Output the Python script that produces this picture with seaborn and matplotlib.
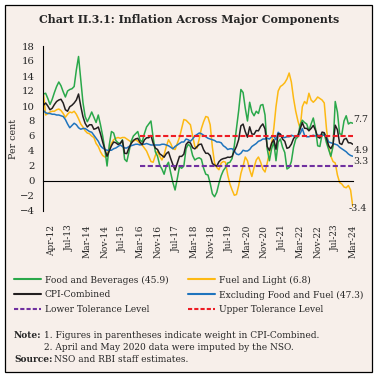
import numpy as np
import pandas as pd
import seaborn as sns
import matplotlib.pyplot as plt
from matplotlib.lines import Line2D
from matplotlib.patches import Rectangle

# Monthly data, Jun-12 to Mar-24 (y-o-y, per cent)
months = pd.period_range('2012-06', '2024-03', freq='M')

food = [11.6, 11.7, 11.0, 10.2, 10.9, 11.8, 12.6, 13.2, 12.7, 11.9,
        11.2, 12.0, 12.2, 12.3, 12.6, 14.8, 16.6, 13.5, 10.5, 8.6,
        7.9, 8.5, 9.2, 8.5, 7.8, 8.8, 7.5, 6.0, 4.2, 2.0,
        4.8, 6.6, 6.4, 5.4, 5.1, 5.0, 5.5, 2.9, 2.6, 3.9,
        5.3, 6.0, 6.3, 6.6, 5.5, 5.2, 6.3, 7.2, 7.6, 8.0,
        5.8, 3.9, 3.3, 2.1, 1.6, 0.9, 2.0, 2.5, 1.1, -0.2,
        -1.2, 0.3, 1.9, 1.7, 2.0, 4.3, 4.9, 4.6, 3.4, 2.8,
        3.0, 3.1, 2.9, 1.7, 0.9, 0.8, -0.3, -1.7, -2.1, -1.5,
        -0.3, 0.7, 1.4, 1.8, 2.4, 2.5, 3.0, 4.7, 7.1, 9.4,
        12.2, 11.8, 9.7, 8.0, 10.5, 9.2, 8.7, 9.3, 9.0, 10.1,
        10.2, 8.8, 4.3, 2.7, 4.3, 5.2, 2.7, 5.2, 5.6, 4.5,
        3.8, 1.6, 1.8, 2.6, 4.5, 5.6, 5.9, 7.5, 8.1, 7.8,
        7.6, 6.7, 7.6, 8.4, 7.0, 4.7, 4.6, 6.2, 6.3, 5.1,
        4.2, 3.3, 4.6, 10.6, 9.2, 6.3, 6.2, 8.0, 8.7, 7.6,
        7.8, 7.7]

fuel = [11.7, 8.8, 9.0, 9.2, 9.3, 9.3, 9.5, 9.6, 9.4, 9.0,
        8.5, 8.9, 9.2, 9.1, 9.3, 8.9, 8.3, 7.6, 7.2, 6.7,
        6.4, 6.3, 6.0, 5.8, 5.0, 4.6, 3.9, 3.4, 3.2, 3.5,
        4.3, 5.0, 5.5, 5.7, 5.8, 5.7, 5.8, 5.8, 5.6, 5.4,
        5.2, 5.3, 5.5, 5.3, 5.0, 4.8, 4.4, 4.0, 3.3, 2.6,
        2.5, 3.4, 4.0, 3.3, 2.8, 3.5, 4.6, 5.5, 5.0, 4.3,
        4.2, 5.0, 5.8, 7.0, 8.2, 8.1, 7.8, 7.5, 6.0, 4.6,
        4.4, 5.6, 7.0, 7.9, 8.6, 8.5, 7.5, 4.5, 2.4, 1.8,
        1.5, 2.4, 2.6, 2.5, 0.8, -0.4, -1.2, -1.9, -1.8, -0.6,
        1.0, 2.0, 3.2, 2.7, 1.5, 0.6, 1.8, 2.8, 3.2, 2.5,
        1.6, 1.2, 2.4, 3.8, 5.0, 7.0, 9.9, 12.0, 12.6, 12.8,
        13.1, 13.6, 14.4, 13.2, 11.0, 9.3, 8.0, 7.0, 9.9, 10.6,
        10.3, 11.7, 10.8, 10.5, 10.8, 11.2, 11.0, 10.8, 10.4, 7.0,
        4.5, 3.3, 2.6, 2.4, 0.8, -0.2, -0.4, -0.8, -0.9, -0.6,
        -1.2, -3.4]

cpi = [10.1, 10.4, 10.0, 9.5, 9.7, 10.2, 10.6, 10.8, 10.9, 10.4,
       9.5, 9.3, 9.9, 10.1, 10.4, 10.8, 11.6, 10.0, 8.6, 7.7,
       7.2, 7.5, 7.5, 6.9, 7.0, 7.2, 6.3, 5.2, 4.2, 3.3,
       4.0, 4.7, 5.2, 5.1, 4.87, 5.01, 5.40, 3.69, 3.66, 4.41,
       5.00, 5.41, 5.61, 5.69, 5.18, 4.83, 5.47, 5.76, 5.77, 6.07,
       5.05, 4.39, 4.20, 3.63, 3.41, 3.17, 3.65, 3.89, 2.99, 2.18,
       1.46, 2.36, 3.28, 3.28, 3.58, 4.88, 5.21, 5.07, 4.44, 4.28,
       4.58, 4.87, 4.92, 4.17, 3.69, 3.70, 3.38, 2.33, 2.11, 1.97,
       2.57, 2.86, 2.99, 3.05, 3.18, 3.15, 3.28, 3.99, 4.62, 5.54,
       7.35, 7.59, 6.58, 5.84, 7.22, 6.27, 6.23, 6.73, 6.69, 7.27,
       7.61, 6.93, 4.59, 4.06, 5.03, 5.52, 4.23, 6.30, 6.26, 5.59,
       5.30, 4.35, 4.48, 4.91, 5.66, 6.01, 6.07, 6.95, 7.79, 7.04,
       7.01, 6.71, 7.00, 7.41, 6.77, 5.88, 5.72, 6.52, 6.44, 5.66,
       4.70, 4.31, 4.87, 7.44, 6.83, 5.02, 4.87, 5.55, 5.69, 5.10,
       5.09, 4.9]

core = [9.4, 9.1, 9.0, 9.0, 8.9, 8.9, 8.8, 8.8, 8.7, 8.6,
        8.2, 7.6, 7.1, 7.4, 7.7, 7.5, 7.1, 6.9, 7.0, 7.0,
        6.8, 6.6, 6.5, 6.1, 5.7, 5.3, 4.7, 4.4, 4.2, 4.1,
        4.1, 4.1, 4.3, 4.4, 4.6, 4.8, 4.6, 4.4, 4.4, 4.6,
        4.7, 4.8, 4.9, 4.9, 4.8, 4.9, 4.9, 5.0, 4.9, 4.8,
        4.8, 4.8, 4.8, 4.8, 4.9, 4.9, 4.8, 4.7, 4.5, 4.3,
        4.6, 4.8, 5.0, 5.2, 5.2, 5.6, 5.5, 5.3, 5.6, 6.0,
        6.2, 6.4, 6.3, 6.1, 5.9, 5.7, 5.6, 5.5, 5.4, 5.2,
        5.2, 5.1, 4.7, 4.5, 4.2, 4.3, 4.3, 4.0, 3.6, 3.5,
        3.7, 4.1, 4.0, 4.0, 4.2, 4.6, 4.8, 5.0, 5.3, 5.4,
        5.6, 5.6, 5.7, 5.6, 5.9, 6.0, 5.5, 6.5, 6.2, 5.8,
        5.8, 5.9, 5.9, 6.1, 6.0, 5.9, 6.0, 6.3, 7.0, 6.1,
        5.9, 5.9, 6.0, 6.1, 6.0, 6.1, 6.1, 6.1, 6.1, 5.9,
        5.2, 5.1, 5.0, 4.9, 4.8, 4.5, 4.3, 4.1, 3.9, 3.6,
        3.4, 3.3]

tick_labels = ['Apr-12', 'Jul-13', 'Mar-14', 'Nov-14', 'Jul-15', 'Mar-16',
               'Nov-16', 'Jul-17', 'Mar-18', 'Nov-18', 'Jul-19', 'Mar-20',
               'Nov-20', 'Jul-21', 'Mar-22', 'Nov-22', 'Jul-23', 'Mar-24']

upper_tol = 6
lower_tol = 2
tol_start = pd.Period('2016-02', freq='M')

# month position counted from Apr-12
pos = np.array([(p.year - 2012) * 12 + p.month - 4 for p in months])
df = pd.DataFrame({'pos': pos, 'food': food, 'fuel': fuel, 'cpi': cpi, 'core': core})
tol = df[months >= tol_start][['pos']].copy()
tol['upper'] = upper_tol
tol['lower'] = lower_tol

bg = '#f7efea'
c_food, c_fuel, c_cpi, c_core = '#2aa84a', '#fdb913', '#231f20', '#1f74bd'
c_low, c_up = '#7030a0', '#ed1c24'

sns.set_style("white")
plt.rcParams['font.family'] = ['DejaVu Serif']

fig = plt.figure(figsize=(3.79, 3.80), dpi=100)
fig.patches.append(Rectangle((5 / 379, 1 - 372 / 380), 367 / 379, 367 / 380,
                             transform=fig.transFigure, facecolor=bg,
                             edgecolor='black', lw=0.9, zorder=-10))
ax = fig.add_axes([43 / 379, 1 - 211 / 380, 310 / 379, 165 / 380])
ax.set_facecolor('none')

lw = 1.1
sns.lineplot(data=df, x='pos', y='fuel', color=c_fuel, lw=lw, ax=ax)
sns.lineplot(data=df, x='pos', y='food', color=c_food, lw=lw, ax=ax)
sns.lineplot(data=df, x='pos', y='core', color=c_core, lw=lw, ax=ax)
sns.lineplot(data=df, x='pos', y='cpi', color=c_cpi, lw=lw, ax=ax)
dash = (0, (2.5, 1.2))
sns.lineplot(data=tol, x='pos', y='upper', color=c_up, lw=1.5, linestyle=dash, ax=ax)
sns.lineplot(data=tol, x='pos', y='lower', color=c_low, lw=1.5, linestyle=dash, ax=ax)

xmin, xmax = 1.8, 143.1
ax.set_xlim(xmin, xmax)
ax.set_ylim(-4, 18)
ax.set_yticks(range(-4, 19, 2))
ticks = np.linspace(xmin, xmax, 36)
ax.set_xticks(ticks[1::2])
ax.set_xticks(ticks[0::2], minor=True)
ax.set_xticklabels(tick_labels)
ax.set_xlabel('')
ax.set_ylabel('')

for s in ['top', 'right']:
    ax.spines[s].set_visible(False)
ax.spines['bottom'].set_position(('data', 0))
for s in ['left', 'bottom']:
    ax.spines[s].set_color('black')
    ax.spines[s].set_linewidth(0.8)
ax.tick_params(axis='x', which='both', direction='out', length=3, width=0.8,
               color='black', pad=28.5, labelsize=6.5, labelrotation=90)
ax.tick_params(axis='y', direction='out', length=4, width=0.8, color='black',
               pad=2, labelsize=7.3)

# end-point labels
last = df.iloc[-1]
ax.annotate(f"{last['food']:.1f}", xy=(last['pos'], last['food']), xytext=(0.5, 3),
            textcoords='offset points', fontsize=6.8, va='center', ha='left')
ax.annotate(f"{last['cpi']:.1f}", xy=(last['pos'], last['cpi']), xytext=(0.5, -4.3),
            textcoords='offset points', fontsize=6.8, va='center', ha='left')
ax.annotate(f"{last['core']:.1f}", xy=(last['pos'], last['core']), xytext=(0.5, -4.1),
            textcoords='offset points', fontsize=6.8, va='center', ha='left')
ax.annotate(f"{last['fuel']:.1f}", xy=(last['pos'], last['fuel']), xytext=(-2.7, -1.8),
            textcoords='offset points', fontsize=6.8, va='center', ha='left')

fig.text(188.8 / 379, 1 - 19.5 / 380, 'Chart II.3.1: Inflation Across Major Components',
         ha='center', va='center', fontsize=7.9, fontweight='bold')
fig.text(14 / 379, 1 - 139 / 380, 'Per cent', rotation=90, ha='center', va='center',
         fontsize=6.8)

leg_kw = dict(loc='upper left', frameon=False, fontsize=6.5, handlelength=3.0,
              handletextpad=0.4, labelspacing=0.65, borderpad=0, borderaxespad=0)
h1 = [Line2D([], [], color=c_food, lw=1.5), Line2D([], [], color=c_cpi, lw=1.5),
      Line2D([], [], color=c_low, lw=1.5, linestyle=(0, (2, 1)))]
h2 = [Line2D([], [], color=c_fuel, lw=1.5), Line2D([], [], color=c_core, lw=1.5),
      Line2D([], [], color=c_up, lw=1.5, linestyle=(0, (2, 1)))]
fig.legend(h1, ['Food and Beverages (45.9)', 'CPI-Combined', 'Lower Tolerance Level'],
           bbox_to_anchor=(14 / 379, 1 - 275.5 / 380), **leg_kw)
fig.legend(h2, ['Fuel and Light (6.8)', 'Excluding Food and Fuel (47.3)', 'Upper Tolerance Level'],
           bbox_to_anchor=(188 / 379, 1 - 275.5 / 380), **leg_kw)

fs = 6.5
fig.text(14 / 379, 1 - 335 / 380, 'Note:', fontsize=fs, fontweight='bold', va='center')
fig.text(44.3 / 379, 1 - 335 / 380, '1. Figures in parentheses indicate weight in CPI-Combined.',
         fontsize=fs, va='center')
fig.text(44.3 / 379, 1 - 347.7 / 380, '2. April and May 2020 data were imputed by the NSO.',
         fontsize=fs, va='center')
fig.text(14 / 379, 1 - 359.3 / 380, 'Source:', fontsize=fs, fontweight='bold', va='center')
fig.text(54.3 / 379, 1 - 359.3 / 380, 'NSO and RBI staff estimates.', fontsize=fs, va='center')

fig.savefig('out.png', dpi=100, facecolor='white')
